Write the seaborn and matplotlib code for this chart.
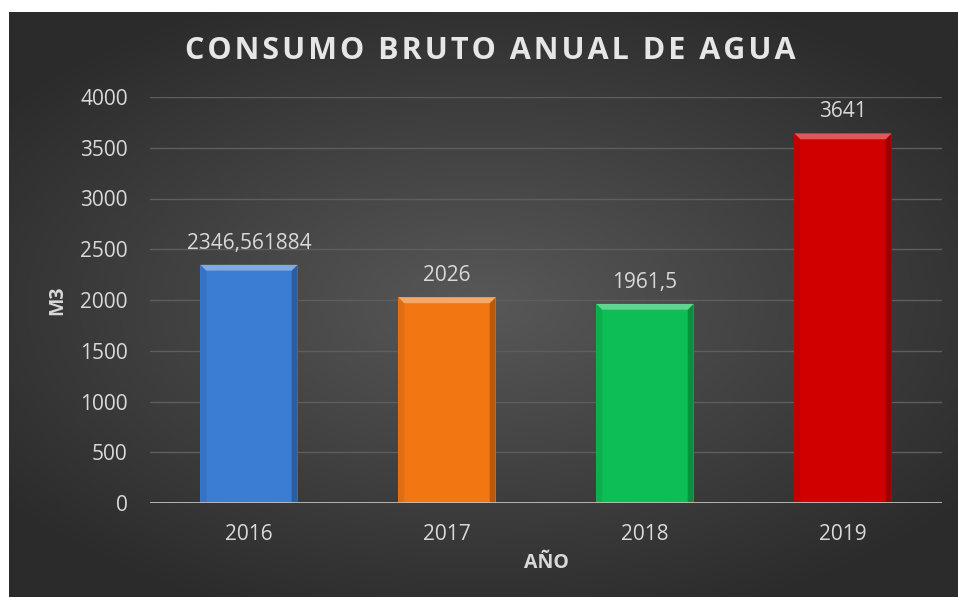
import numpy as np
import pandas as pd
import seaborn as sns
import matplotlib.pyplot as plt
from matplotlib.patches import Polygon

years = ['2016', '2017', '2018', '2019']
consumo = [2346.561884, 2026, 1961.5, 3641]
etiquetas = ['2346,561884', '2026', '1961,5', '3641']
colores = ['#3b7dd3', '#f27713', '#0dbd55', '#d00000']

df = pd.DataFrame({'anio': years, 'm3': consumo})

sns.set_theme(style='dark')
plt.rcParams['font.family'] = ['Open Sans', 'DejaVu Sans']

fig = plt.figure(figsize=(9.58, 5.97), dpi=100)
fig.patch.set_facecolor('white')

# fondo oscuro con degradado radial
bg = fig.add_axes([9/958, 0, 1 - 9/958, 1 - 12/597])
yy, xx = np.mgrid[-1:1:300j, -1:1:500j]
r = np.sqrt((xx * 0.9) ** 2 + (yy * 1.0) ** 2)
bg.imshow(np.clip(r, 0, 1.2), cmap=sns.blend_palette(['#585858', '#2b2b2b'], as_cmap=True),
          aspect='auto', extent=[0, 1, 0, 1], vmin=0, vmax=1.15)
bg.set_axis_off()

ax = fig.add_axes([150/958, 1 - 503/597, (942 - 150)/958, (503 - 97)/597])
ax.patch.set_alpha(0)
sns.barplot(data=df, x='anio', y='m3', hue='anio', palette=colores, legend=False,
            width=0.49, saturation=1, edgecolor='none', linewidth=0, ax=ax)

# efecto bisel sobre cada barra
for p in ax.patches[:len(years)]:
    x0, y0, w, h = p.get_x(), p.get_y(), p.get_width(), p.get_height()
    b = w * 0.06
    bh = b * 198 * 4000 / 406
    col = p.get_facecolor()
    dark = tuple(c * 0.75 for c in col[:3])
    light = tuple(min(1, c * 0.65 + 0.35) for c in col[:3])
    ax.add_patch(Polygon([(x0, y0), (x0 + b, y0), (x0 + b, h - bh), (x0, h)],
                         closed=True, color=tuple(c * 0.92 for c in col[:3]), lw=0, zorder=3))
    ax.add_patch(Polygon([(x0 + w, y0), (x0 + w - b, y0), (x0 + w - b, h - bh), (x0 + w, h)],
                         closed=True, color=dark, lw=0, zorder=3))
    ax.add_patch(Polygon([(x0, h), (x0 + w, h), (x0 + w - b, h - bh), (x0 + b, h - bh)],
                         closed=True, color=light, lw=0, zorder=3))

for i, (v, t) in enumerate(zip(consumo, etiquetas)):
    ax.text(i, v + 110, t, ha='center', va='bottom', color='#d9d9d9', fontsize=15)

ax.set_ylim(0, 4000)
ax.set_xlim(-0.5, 3.5)
ax.set_yticks(range(0, 4001, 500))
ax.yaxis.grid(True, color='#5e5e5e', lw=1)
ax.xaxis.grid(False)
ax.set_axisbelow(True)
for s in ax.spines.values():
    s.set_visible(False)
ax.axhline(0, color='#bfbfbf', lw=2, zorder=4)
ax.tick_params(colors='#d9d9d9', labelsize=15, length=0)
ax.tick_params(axis='y', pad=16)
ax.tick_params(axis='x', pad=15)

ax.set_xlabel('AÑO', color='#d9d9d9', fontsize=14, fontweight='bold', labelpad=6)
ax.set_ylabel('M3', color='#d9d9d9', fontsize=14, fontweight='bold', labelpad=9)

titulo = '\u200a'.join('CONSUMO BRUTO ANUAL DE AGUA')
fig.text(490/958, 1 - 51/597, titulo,
         ha='center', va='center', color='#e6e6e6', fontsize=22, fontweight='bold')

fig.savefig('out.png', dpi=100, facecolor=fig.get_facecolor())
